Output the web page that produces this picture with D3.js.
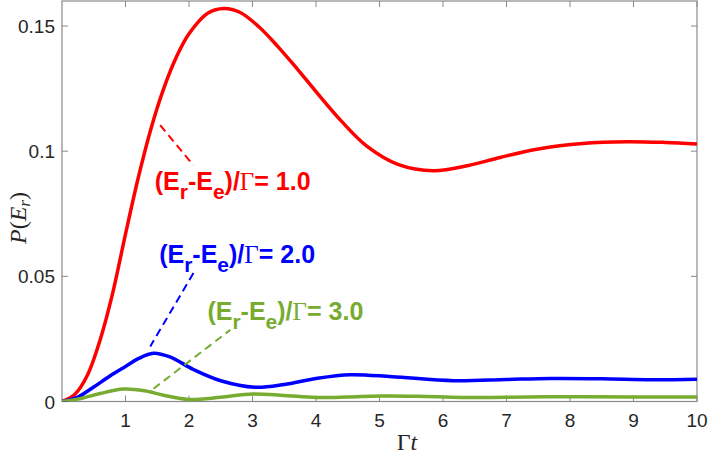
<!DOCTYPE html>
<html>
<head>
<meta charset="utf-8">
<script src="https://cdn.jsdelivr.net/npm/d3@7"></script>
<style>
  body { margin: 0; background: #fff; }
  svg { display: block; }
</style>
</head>
<body>
<div id="chart"></div>
<script>
const width = 708;
const height = 455;
const margin = { top: 1, right: 11, bottom: 53.5, left: 62 };

// curves
const redT  = [0, 0.2, 0.4, 0.6, 0.8, 1.0, 1.2, 1.4, 1.6, 1.8, 2.0, 2.3, 2.55, 2.8, 3.1, 3.4, 3.7, 4.0, 4.4, 4.8, 5.3, 5.85, 6.4, 6.9, 7.5, 8.2, 8.9, 9.5, 10];
const redP  = [0, 0.0028, 0.0105, 0.0246, 0.0435, 0.0669, 0.0893, 0.1089, 0.1249, 0.1375, 0.1469, 0.1552, 0.157, 0.1555, 0.1497, 0.1418, 0.133, 0.1238, 0.112, 0.102, 0.0946, 0.0922, 0.0943, 0.0975, 0.1009, 0.1031, 0.1038, 0.1035, 0.1029];
const blueT = [0, 0.25, 0.5, 0.75, 1.0, 1.2, 1.44, 1.7, 2.07, 2.5, 3.04, 3.5, 4.0, 4.54, 5.2, 6.17, 7.0, 7.69, 8.5, 9.3, 10];
const blueP = [0, 0.0018, 0.0058, 0.0101, 0.014, 0.0171, 0.0193, 0.0178, 0.0128, 0.0083, 0.0057, 0.0068, 0.0092, 0.0107, 0.0099, 0.0083, 0.0088, 0.0092, 0.0091, 0.0087, 0.0089];
const greenT = [0, 0.3, 0.6, 0.97, 1.3, 1.6, 2.0, 2.5, 3.0, 3.5, 4.0, 4.5, 5.0, 5.6, 6.3, 7, 8, 9, 10];
const greenP = [0, 0.0012, 0.0032, 0.005, 0.0043, 0.0025, 0.0008, 0.0017, 0.003, 0.0024, 0.0016, 0.0018, 0.0022, 0.0021, 0.0016, 0.0017, 0.0019, 0.0018, 0.0018];

const xTicks = [1, 2, 3, 4, 5, 6, 7, 8, 9, 10];
const yTicks = [0, 0.05, 0.1, 0.15];
const yTickLabels = ["0", "0.05", "0.1", "0.15"];

// annotations: label value, text anchor (t, P), dashed pointer (t0,P0)-(t1,P1)
const labelValues = ["1.0", "2.0", "3.0"];
const labelColors = ["#ff0000", "#0000ff", "#77ac30"];
const labelPos = [[1.46, 0.0845], [1.53, 0.0554], [2.29, 0.0326]];
const pointers = [
  [[1.546, 0.1104], [2.07, 0.0943]],
  [[2.07, 0.0513], [1.39, 0.022]],
  [[1.44, 0.0051], [2.65, 0.0286]]
];

const svg = d3.select("#chart")
  .append("svg")
  .attr("width", width)
  .attr("height", height);

const x = d3.scaleLinear()
  .domain([0, 10])
  .range([margin.left, width - margin.right]);

const y = d3.scaleLinear()
  .domain([0, 0.16])
  .range([height - margin.bottom, margin.top]);

const axisColor = "#8a8a8a";
const textColor = "#262626";
const tickLen = 6;

const x0 = x(0), x1 = x(10), y0 = y(0), y1 = y(0.16);

// ticks, inward on all four sides
const ticks = svg.append("g").attr("stroke", axisColor).attr("stroke-width", 1);
xTicks.forEach(t => {
  ticks.append("line").attr("x1", x(t)).attr("x2", x(t)).attr("y1", y0).attr("y2", y0 - tickLen);
  ticks.append("line").attr("x1", x(t)).attr("x2", x(t)).attr("y1", y1).attr("y2", y1 + tickLen);
});
yTicks.forEach(v => {
  ticks.append("line").attr("x1", x0).attr("x2", x0 + tickLen).attr("y1", y(v)).attr("y2", y(v));
  ticks.append("line").attr("x1", x1).attr("x2", x1 - tickLen).attr("y1", y(v)).attr("y2", y(v));
});

svg.append("rect")
  .attr("x", x0).attr("y", y1)
  .attr("width", x1 - x0).attr("height", y0 - y1)
  .attr("fill", "none")
  .attr("stroke", axisColor)
  .attr("stroke-width", 1.2);

// tick labels
svg.append("g").selectAll("text")
  .data(xTicks)
  .join("text")
  .attr("x", d => x(d))
  .attr("y", 427)
  .attr("text-anchor", "middle")
  .attr("font-family", "Liberation Sans, Arial, sans-serif")
  .attr("font-size", 19)
  .attr("fill", textColor)
  .text(d => d);

svg.append("g").selectAll("text")
  .data(yTicks)
  .join("text")
  .attr("x", x0 - 7)
  .attr("y", d => y(d) + 7)
  .attr("text-anchor", "end")
  .attr("font-family", "Liberation Sans, Arial, sans-serif")
  .attr("font-size", 19)
  .attr("fill", textColor)
  .text((d, i) => yTickLabels[i]);

// axis titles
const xTitle = svg.append("text")
  .attr("x", 407)
  .attr("y", 450)
  .attr("text-anchor", "middle")
  .attr("font-family", "Liberation Serif, Times New Roman, serif")
  .attr("font-size", 24)
  .attr("fill", textColor);
xTitle.append("tspan").text("Γ");
xTitle.append("tspan").attr("font-style", "italic").text("t");

const yTitle = svg.append("text")
  .attr("transform", "translate(26,218) rotate(-90)")
  .attr("text-anchor", "middle")
  .attr("font-family", "Liberation Serif, Times New Roman, serif")
  .attr("font-size", 24)
  .attr("fill", textColor);
yTitle.append("tspan").attr("font-style", "italic").text("P");
yTitle.append("tspan").text("(");
yTitle.append("tspan").attr("font-style", "italic").text("E");
yTitle.append("tspan").attr("font-style", "italic").attr("font-size", 17).attr("dy", 4).text("r");
yTitle.append("tspan").attr("dy", -4).text(")");

// curves
const line = d3.line()
  .x(d => x(d[0]))
  .y(d => y(d[1]))
  .curve(d3.curveCatmullRom.alpha(0.5));

const series = [
  { t: redT, p: redP, color: labelColors[0] },
  { t: blueT, p: blueP, color: labelColors[1] },
  { t: greenT, p: greenP, color: labelColors[2] }
];

svg.append("clipPath").attr("id", "plot-clip")
  .append("rect").attr("x", x0).attr("y", y1).attr("width", x1 - x0).attr("height", y0 - y1);

svg.append("g").attr("clip-path", "url(#plot-clip)")
  .selectAll("path")
  .data(series)
  .join("path")
  .attr("d", s => line(s.t.map((t, i) => [t, s.p[i]])))
  .attr("fill", "none")
  .attr("stroke", s => s.color)
  .attr("stroke-width", 3.5)
  .attr("stroke-linejoin", "round");

// dashed pointers
svg.append("g").selectAll("line")
  .data(pointers)
  .join("line")
  .attr("x1", d => x(d[0][0]))
  .attr("y1", d => y(d[0][1]))
  .attr("x2", d => x(d[1][0]))
  .attr("y2", d => y(d[1][1]))
  .attr("stroke", (d, i) => labelColors[i])
  .attr("stroke-width", 2)
  .attr("stroke-dasharray", "8,5");

// labels
labelValues.forEach((v, i) => {
  const txt = svg.append("text")
    .attr("x", x(labelPos[i][0]))
    .attr("y", y(labelPos[i][1]))
    .attr("font-family", "Liberation Sans, Arial, sans-serif")
    .attr("font-weight", "bold")
    .attr("font-size", 25)
    .attr("fill", labelColors[i]);
  txt.append("tspan").text("(E");
  txt.append("tspan").attr("font-size", 21).attr("dy", 9).text("r");
  txt.append("tspan").attr("dy", -9).text("-E");
  txt.append("tspan").attr("font-size", 21).attr("dy", 9).text("e");
  txt.append("tspan").attr("dy", -9).text(")/");
  txt.append("tspan")
    .attr("font-family", "Liberation Serif, Times New Roman, serif")
    .attr("font-weight", "normal")
    .text("Γ");
  txt.append("tspan").text("= " + v);
});
</script>
</body>
</html>
